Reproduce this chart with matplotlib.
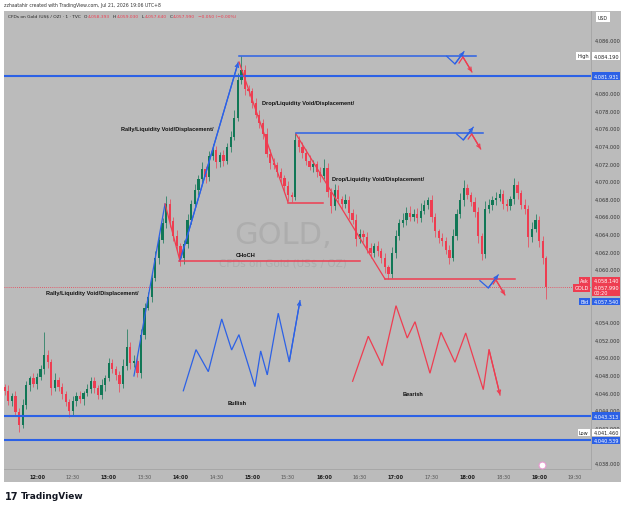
import numpy as np
import matplotlib
matplotlib.use("Agg")
import matplotlib.pyplot as plt
from matplotlib.patches import Rectangle
from matplotlib.transforms import blended_transform_factory

# ---------------- data ----------------
header_text = "zzhaatahir created with TradingView.com, Jul 21, 2026 19:06 UTC+8"
symbol_title = "CFDs on Gold (US$ / OZ) · 1 · TVC"
ohlc_keys = ["O", "H", "L", "C", ""]
ohlc_vals = ["4,058.393", "4,059.030", "4,057.640", "4,057.990", "−0.050 (−0.00%)"]

start_minute = -27          # first candle, minutes relative to 12:00
bar_minutes = 3
first_open = 4046.6
closes = [
    4046.2, 4045.0, 4045.6, 4043.8, 4042.3, 4044.6, 4046.8, 4047.6, 4046.9, 4047.8,
    4048.6, 4050.2, 4049.4, 4046.5, 4047.4, 4046.6, 4045.8, 4044.9, 4043.9, 4045.0,
    4045.6, 4045.2, 4045.9, 4046.4, 4047.3, 4046.5, 4045.7, 4046.8, 4047.6, 4049.3,
    4048.7, 4048.0, 4046.9, 4049.0, 4051.2, 4049.3, 4049.6, 4048.2, 4052.5, 4055.6,
    4056.8, 4059.0, 4061.2, 4063.3, 4065.2, 4067.4, 4065.5, 4063.8, 4062.6, 4061.2,
    4062.8, 4065.6, 4067.4, 4069.0, 4070.2, 4071.3, 4070.5, 4072.8, 4073.5, 4072.1,
    4072.9, 4072.3, 4073.8, 4075.0, 4077.2, 4081.5, 4082.6, 4080.4, 4080.2, 4078.8,
    4077.5, 4076.6, 4075.3, 4073.1, 4072.0, 4071.8, 4071.0, 4070.3, 4069.4, 4068.4,
    4068.2, 4074.6, 4073.8, 4073.2, 4072.3, 4071.6, 4071.9, 4071.0, 4070.6, 4071.5,
    4068.8, 4067.2, 4069.0, 4068.0, 4067.4, 4067.8, 4066.4, 4065.6, 4063.4, 4064.0,
    4063.6, 4062.4, 4061.8, 4062.6, 4062.0, 4061.3, 4060.2, 4059.4, 4061.8, 4063.8,
    4065.2, 4065.6, 4066.4, 4065.9, 4066.3, 4065.8, 4066.6, 4067.3, 4067.8, 4065.9,
    4064.3, 4063.5, 4063.2, 4062.2, 4061.3, 4063.8, 4066.2, 4067.8, 4069.2, 4068.4,
    4067.6, 4066.5, 4063.8, 4061.7, 4066.8, 4067.3, 4067.8, 4068.1, 4068.5, 4067.4,
    4067.1, 4067.9, 4069.5, 4068.6, 4067.3, 4066.8, 4063.6, 4064.6, 4065.6, 4063.2,
    4061.2, 4058.0]
wick_up = [
    0.4, 0.6, 0.3, 0.5, 0.4, 0.7, 0.5, 0.3, 0.6, 0.4,
    0.5, 2.7, 0.6, 0.4, 0.8, 0.3, 0.5, 0.4, 0.3, 0.6,
    0.4, 0.5, 0.3, 0.6, 0.4, 0.5, 0.3, 0.7, 0.4, 0.6,
    0.5, 0.3, 0.4, 0.8, 2.0, 0.5, 0.6, 0.4, 0.7, 0.5,
    0.6, 0.4, 0.8, 0.5, 0.6, 0.9, 0.5, 0.4, 0.6, 0.3,
    0.5, 0.7, 0.4, 0.6, 0.5, 0.8, 0.4, 0.6, 0.7, 0.5,
    0.4, 0.6, 0.5, 0.7, 0.9, 0.8, 1.6, 0.6, 0.5, 0.4,
    0.6, 0.5, 0.4, 0.7, 0.5, 0.6, 0.3, 0.5, 0.4, 0.6,
    0.4, 0.8, 0.5, 0.6, 0.4, 0.7, 0.5, 0.4, 0.6, 1.0,
    0.5, 0.4, 0.6, 0.5, 0.3, 0.7, 0.5, 0.4, 0.6, 0.5,
    0.4, 0.6, 0.5, 0.3, 0.6, 0.4, 0.5, 0.3, 0.7, 0.6,
    0.5, 0.8, 0.6, 0.7, 0.5, 0.6, 0.9, 0.5, 0.4, 0.6,
    0.5, 0.3, 0.6, 0.4, 0.5, 0.7, 0.6, 0.8, 0.9, 0.5,
    0.4, 0.6, 0.5, 0.3, 0.9, 0.6, 0.5, 0.7, 0.6, 0.5,
    0.6, 0.4, 0.8, 0.5, 0.4, 0.6, 0.5, 0.7, 0.6, 0.4,
    0.5, 0.3]
wick_dn = [
    0.5, 0.4, 0.6, 0.5, 0.8, 0.4, 0.5, 0.6, 0.3, 0.5,
    0.4, 0.5, 0.6, 0.8, 0.4, 0.5, 0.6, 0.4, 0.7, 0.5,
    0.5, 0.4, 0.6, 0.3, 0.5, 0.6, 0.5, 0.4, 0.6, 0.3,
    0.5, 0.6, 0.9, 0.4, 0.5, 0.6, 0.4, 0.5, 0.6, 0.4,
    0.3, 0.5, 0.4, 0.6, 0.3, 0.5, 0.7, 0.6, 0.5, 0.8,
    0.6, 0.4, 0.5, 0.3, 0.6, 0.4, 0.7, 0.5, 0.4, 0.6,
    0.5, 0.6, 0.4, 0.5, 0.3, 0.4, 0.5, 0.7, 0.6, 0.5,
    0.4, 0.6, 0.5, 0.4, 0.7, 0.5, 0.6, 0.4, 0.5, 0.7,
    0.6, 0.4, 0.5, 0.6, 0.5, 0.4, 0.6, 0.5, 0.7, 0.4,
    0.6, 0.8, 0.5, 0.4, 0.6, 0.5, 0.7, 0.5, 0.8, 0.4,
    0.5, 0.6, 0.5, 0.4, 0.5, 0.6, 0.7, 0.5, 0.4, 0.6,
    0.5, 0.4, 0.6, 0.5, 0.4, 0.6, 0.5, 0.3, 0.5, 0.6,
    0.7, 0.5, 0.6, 0.5, 0.7, 0.4, 0.5, 0.4, 0.6, 0.5,
    0.4, 0.6, 0.8, 0.7, 0.5, 0.4, 0.6, 0.5, 0.4, 0.6,
    0.5, 0.4, 0.5, 0.6, 0.5, 0.6, 1.1, 0.5, 0.4, 0.7,
    0.6, 1.4]

time_ticks = list(range(0, 451, 30))
time_labels = ["12:00", "12:30", "13:00", "13:30", "14:00", "14:30", "15:00", "15:30",
               "16:00", "16:30", "17:00", "17:30", "18:00", "18:30", "19:00", "19:30"]
price_ticks = list(range(4038, 4087, 2))
hidden_price_ticks = [4084, 4082, 4058, 4056, 4040]   # covered by price-scale labels

level_high = 4084.190
level_a = 4081.931
level_b = 4043.313
level_low = 4041.460
level_c = 4040.539
ask_price, last_price, bid_price = 4058.140, 4057.990, 4057.540

# drawings (minute, price)
blue_rally_1 = [(81.1, 4047.86), (107.1, 4067.39)]
red_pullback = [(107.1, 4067.39), (119.6, 4060.92)]
blue_rally_2 = [(119.6, 4060.92), (168.3, 4083.45)]
red_drop_1 = [(169.0, 4083.5), (209.9, 4067.61)]
red_drop_2 = [(216.6, 4075.33), (291.1, 4058.87)]
blue_hlines = [(169.0, 367.2, 4084.19), (216.6, 373.0, 4075.40)]
red_hlines = [(209.9, 239.2, 4067.50), (118.8, 270.2, 4060.95), (291.1, 399.8, 4058.87)]
bull_zigzag = [(122.4, 4046.18), (133.0, 4050.85), (143.3, 4048.35), (154.5, 4054.33),
               (162.8, 4050.81), (168.9, 4052.55), (182.3, 4046.65), (187.1, 4050.70),
               (192.6, 4047.98), (201.8, 4054.98), (211.0, 4049.48), (220.0, 4056.41)]
bear_zigzag = [(264.0, 4047.26), (277.1, 4052.37), (288.8, 4049.03), (300.3, 4055.84),
               (309.7, 4052.17), (316.2, 4054.02), (328.7, 4048.17), (337.9, 4052.82),
               (349.6, 4049.42), (358.6, 4052.74), (373.3, 4046.31), (378.1, 4050.85),
               (387.3, 4045.70)]
small_blue = [[(342.7, 4084.15), (349.6, 4083.28), (357.1, 4084.67)],
              [(351.0, 4075.33), (356.6, 4074.65), (364.9, 4076.09)],
              [(370.5, 4058.68), (377.5, 4057.85), (385.8, 4059.33)]]
small_red = [[(353.0, 4083.39), (356.3, 4084.07), (363.8, 4082.37)],
             [(360.7, 4074.76), (363.6, 4075.33), (371.1, 4073.63)],
             [(381.6, 4058.30), (383.9, 4058.76), (391.4, 4057.06)]]
labels = [("Rally/Liquidity Void/Displacement/", 109.2, 4075.9),
          ("Drop/Liquidity Void/Displacement/", 227.0, 4078.85),
          ("Drop/Liquidity Void/Displacement/", 285.2, 4070.22),
          ("Rally/Liquidity Void/Displacement/", 46.0, 4057.36),
          ("CHoCH", 174.8, 4061.7),
          ("Bullish", 167.3, 4044.8),
          ("Bearish", 314.3, 4045.9)]

# ---------------- style ----------------
W, H = 625, 510
BG = "#bbbbbb"
GREEN = "#117756"
RED = "#ee3d51"
BLUE = "#2c61e6"
DARK = "#222222"

def fx(px):
    return px / W

def fy(py):
    return 1 - py / H

fig = plt.figure(figsize=(6.25, 5.1), dpi=100)
fig.patch.set_facecolor("white")
panel = Rectangle((fx(4), fy(483)), fx(621) - fx(4), fy(12) - fy(483),
                  transform=fig.transFigure, facecolor=BG, edgecolor="none", zorder=-5)
fig.add_artist(panel)

ax = fig.add_axes([fx(4), fy(470), fx(591) - fx(4), fy(12) - fy(470)])
ax.set_zorder(2)
ax.set_facecolor(BG)
ax.set_xlim(-27.6, 463.4)
ax.set_ylim(4037.30, 4089.29)
for s in ["left", "top"]:
    ax.spines[s].set_visible(False)
for s in ["right", "bottom"]:
    ax.spines[s].set_color("#a4a4a4")
    ax.spines[s].set_linewidth(0.6)

# candles
n = len(closes)
t = start_minute + bar_minutes * np.arange(n)
c = np.array(closes)
o = np.concatenate([[first_open], c[:-1]])
hi = np.maximum(o, c) + np.array(wick_up)
lo = np.minimum(o, c) - np.array(wick_dn)
cols = np.where(c >= o, GREEN, RED)
ax.vlines(t, lo, hi, colors=cols, lw=0.5, zorder=3)
body_h = np.abs(c - o)
body_h = np.where(body_h < 0.08, 0.08, body_h)
ax.bar(t, body_h, bottom=np.minimum(o, c), width=1.9, color=cols, edgecolor="none", zorder=3)

# current price dotted line
ax.axhline(last_price, color=RED, lw=0.6, ls=(0, (1, 1.5)), zorder=2)

# full-width levels
for lv in [level_a, level_b, level_c]:
    ax.axhline(lv, color=BLUE, lw=1.5, zorder=4)

def seg(pts, color, lw=0.9, arrow=False):
    xs = [p[0] for p in pts]
    ys = [p[1] for p in pts]
    ax.plot(xs, ys, color=color, lw=lw, zorder=5, solid_joinstyle="miter")
    if arrow:
        ax.annotate("", xy=pts[-1], xytext=pts[-2],
                    arrowprops=dict(arrowstyle="->", color=color, lw=lw,
                                    shrinkA=0, shrinkB=0, mutation_scale=6), zorder=5)

seg(blue_rally_1, BLUE)
seg(red_pullback, RED)
seg(blue_rally_2, BLUE, arrow=True)
seg(red_drop_1, RED)
seg(red_drop_2, RED)
for x0, x1, y in blue_hlines:
    ax.plot([x0, x1], [y, y], color=BLUE, lw=1.1, zorder=5)
for x0, x1, y in red_hlines:
    ax.plot([x0, x1], [y, y], color=RED, lw=1.1, zorder=5)
seg(bull_zigzag, BLUE, lw=0.9, arrow=True)
seg(bear_zigzag, RED, lw=0.9, arrow=True)
for pts in small_blue:
    seg(pts, BLUE, lw=0.9, arrow=True)
for pts in small_red:
    seg(pts, RED, lw=0.9, arrow=True)

# watermark
ax.text(205.8, 4063.9, "GOLD,", fontsize=22, color="#adadad", ha="center", va="center", zorder=1)
ax.text(205.8, 4060.7, "CFDs on Gold (US$ / OZ)", fontsize=7.5, color="#adadad",
        ha="center", va="center", zorder=1)

# annotation labels
for txt, xm, yp in labels:
    ax.text(xm, yp, txt, fontsize=4.1, fontweight="bold", family="Liberation Sans",
            color="#111111", ha="center", va="center", zorder=6)

# axes ticks
ax.yaxis.tick_right()
ax.set_yticks(price_ticks)
ax.set_yticklabels(["" if v in hidden_price_ticks else f"{v:,.3f}" for v in price_ticks])
ax.tick_params(axis="y", length=0, pad=2.5, labelsize=3.6, labelcolor="#333333")
ax.set_xticks(time_ticks)
ax.set_xticklabels(time_labels)
ax.tick_params(axis="x", length=0, pad=3.5, labelsize=3.6)
for lab, txt in zip(ax.get_xticklabels(), time_labels):
    if txt.endswith(":00"):
        lab.set_color("#1a1a1a")
        lab.set_fontweight("bold")
    else:
        lab.set_color("#555555")

# price-scale boxes
tr = blended_transform_factory(ax.transAxes, ax.transData)

def pbox(price, txt, fc, tc, dy=0, side="right"):
    x = 1.004 if side == "right" else 0.996
    ha = "left" if side == "right" else "right"
    ax.annotate(txt, xy=(x, price), xycoords=tr, xytext=(0, dy), textcoords="offset points",
                fontsize=3.6, color=tc, ha=ha, va="center", annotation_clip=False,
                linespacing=1.0,
                bbox=dict(boxstyle="square,pad=0.25", fc=fc, ec="none"), zorder=20)

pbox(level_high, f"{level_high:,.3f}", "white", DARK)
pbox(level_high, "High", "white", DARK, side="left")
pbox(level_a, f"{level_a:,.3f}", BLUE, "white")
pbox(ask_price, f"{ask_price:,.3f}", RED, "white", dy=3.6)
pbox(ask_price, "Ask", RED, "white", dy=3.6, side="left")
pbox(last_price, f"{last_price:,.3f}\n00:20", RED, "white", dy=-2.4)
pbox(last_price, "GOLD", RED, "white", dy=-0.9, side="left")
pbox(bid_price, f"{bid_price:,.3f}", BLUE, "white", dy=-7.6)
pbox(bid_price, "Bid", BLUE, "white", dy=-7.6, side="left")
pbox(level_b, f"{level_b:,.3f}", BLUE, "white")
pbox(level_low, f"{level_low:,.3f}", "white", DARK)
pbox(level_low, "Low", "white", DARK, side="left")
pbox(level_c, f"{level_c:,.3f}", BLUE, "white")

# small icon on time axis
ax.plot([422], [4037.8], marker="o", ms=5, mfc="white", mec="#e79ad0", mew=0.8,
        clip_on=False, zorder=8)

# header
fig.text(fx(4), fy(5), header_text, fontsize=3.3, color="#333333", ha="left", va="center")
prev = ax.text(fx(8), fy(17), symbol_title, transform=fig.transFigure, fontsize=3.2,
               color=DARK, ha="left", va="center", clip_on=False, zorder=20)
for k, v in zip(ohlc_keys, ohlc_vals):
    if k:
        prev = ax.annotate(k, xy=(1, 0.5), xycoords=prev, xytext=(2.3, 0),
                           textcoords="offset points", fontsize=3.2, color=DARK,
                           ha="left", va="center", annotation_clip=False, zorder=20)
        prev = ax.annotate(v, xy=(1, 0.5), xycoords=prev, xytext=(0.2, 0),
                           textcoords="offset points", fontsize=3.2, color=RED,
                           ha="left", va="center", annotation_clip=False, zorder=20)
    else:
        prev = ax.annotate(v, xy=(1, 0.5), xycoords=prev, xytext=(2.3, 0),
                           textcoords="offset points", fontsize=3.2, color=RED,
                           ha="left", va="center", annotation_clip=False, zorder=20)

# USD box
ax.text(fx(603), fy(18), "USD", transform=fig.transFigure, fontsize=3.4, color=DARK,
        ha="center", va="center", clip_on=False, zorder=20,
        bbox=dict(boxstyle="square,pad=0.5", fc="white", ec="none"))

# logo
fig.text(fx(5), fy(497), "17", fontsize=7, fontweight="heavy", color="#131722",
         ha="left", va="center")
fig.text(fx(21), fy(497), "TradingView", fontsize=6.5, fontweight="bold", color="#131722",
         ha="left", va="center")

fig.savefig("out.png", dpi=100, facecolor="white")
